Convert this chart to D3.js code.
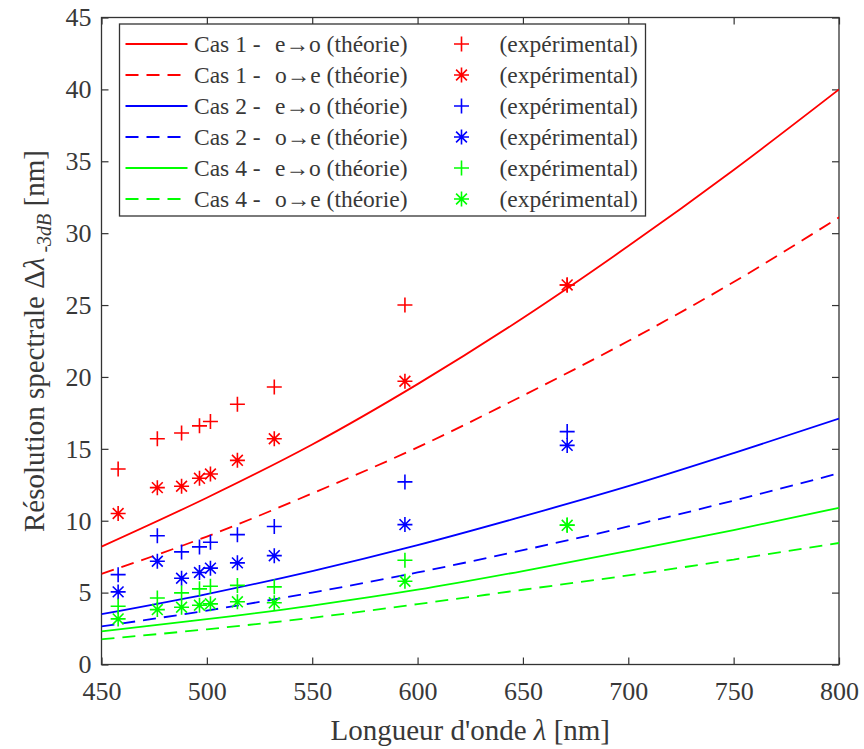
<!DOCTYPE html>
<html>
<head>
<meta charset="utf-8">
<script src="https://cdn.jsdelivr.net/npm/d3@7"></script>
<style>
  html, body { margin: 0; padding: 0; background: #fff; }
  svg { display: block; }
</style>
</head>
<body>
<script>
// ---------- data ----------
const xTicks = [450, 500, 550, 600, 650, 700, 750, 800];
const yTicks = [0, 5, 10, 15, 20, 25, 30, 35, 40, 45];

// theoretical curves (wavelength grid)
const lambdaTheory = [450, 500, 550, 600, 650, 700, 750, 800];
const cas1_eo_theory = [8.2, 11.6, 15.3, 19.5, 24.1, 29.1, 34.4, 40.0];
const cas1_oe_theory = [6.3, 8.9, 11.9, 15.1, 18.7, 22.5, 26.6, 31.1];
const cas2_eo_theory = [3.5, 4.9, 6.5, 8.3, 10.3, 12.4, 14.7, 17.1];
const cas2_oe_theory = [2.65, 3.75, 5.0, 6.4, 7.95, 9.6, 11.4, 13.3];
const cas4_eo_theory = [2.3, 3.15, 4.1, 5.2, 6.5, 7.9, 9.35, 10.9];
const cas4_oe_theory = [1.75, 2.45, 3.25, 4.2, 5.2, 6.2, 7.3, 8.45];

// experimental points
const lambdaExp = [457.9, 476.5, 488, 496.5, 501.7, 514.5, 532, 594, 671];
const cas1_eo_exp = [13.6, 15.7, 16.1, 16.6, 16.9, 18.1, 19.3, 25.0, 26.4];
const cas1_oe_exp = [10.5, 12.3, 12.4, 12.95, 13.25, 14.2, 15.7, 19.7, 26.4];
const cas2_eo_exp = [6.25, 8.96, 7.83, 8.18, 8.5, 9.03, 9.6, 12.7, 16.2];
const cas2_oe_exp = [5.05, 7.18, 6.0, 6.4, 6.7, 7.07, 7.57, 9.73, 15.24];
const cas4_eo_exp = [4.05, 4.63, 4.98, 5.26, 5.44, 5.5, 5.4, 7.25, 9.7];
const cas4_oe_exp = [3.17, 3.82, 3.98, 4.12, 4.22, 4.36, 4.29, 5.79, 9.68];

const seriesNames = ["Cas 1 - ", "Cas 1 - ", "Cas 2 - ", "Cas 2 - ", "Cas 4 - ", "Cas 4 - "];
const seriesDirs = ["e\u2192o (théorie)", "o\u2192e (théorie)", "e\u2192o (théorie)", "o\u2192e (théorie)", "e\u2192o (théorie)", "o\u2192e (théorie)"];
const expLabel = "(expérimental)";
const seriesColors = ["#ff0000", "#ff0000", "#0000ff", "#0000ff", "#00ff00", "#00ff00"];
const seriesDashed = [false, true, false, true, false, true];
const seriesMarkers = ["plus", "star", "plus", "star", "plus", "star"];
const theory = [cas1_eo_theory, cas1_oe_theory, cas2_eo_theory, cas2_oe_theory, cas4_eo_theory, cas4_oe_theory];
const exper = [cas1_eo_exp, cas1_oe_exp, cas2_eo_exp, cas2_oe_exp, cas4_eo_exp, cas4_oe_exp];

// ---------- layout ----------
const W = 864, H = 749;
const L = 101.5, R = 839, T = 17.5, B = 664.5;
const axisColor = "#333";
const FONT = "Liberation Serif, DejaVu Serif, serif";
const TXT = "#383838";

const svg = d3.select("body").append("svg").attr("width", W).attr("height", H)
  .attr("font-family", FONT);

const x = d3.scaleLinear().domain([450, 800]).range([L, R]);
const y = d3.scaleLinear().domain([0, 45]).range([B, T]);

svg.append("clipPath").attr("id", "clip").append("rect")
  .attr("x", L).attr("y", T).attr("width", R - L).attr("height", B - T);

// axes
const tickFont = 26;
const gx = svg.append("g").attr("transform", `translate(0,${B})`)
  .call(d3.axisBottom(x).tickValues(xTicks).tickSizeInner(-7).tickSizeOuter(0).tickPadding(17));
const gxt = svg.append("g").attr("transform", `translate(0,${T})`)
  .call(d3.axisTop(x).tickValues(xTicks).tickSizeInner(-7).tickSizeOuter(0).tickFormat(""));
const gy = svg.append("g").attr("transform", `translate(${L},0)`)
  .call(d3.axisLeft(y).tickValues(yTicks).tickSizeInner(-7).tickSizeOuter(0).tickPadding(10));
const gyr = svg.append("g").attr("transform", `translate(${R},0)`)
  .call(d3.axisRight(y).tickValues(yTicks).tickSizeInner(-7).tickSizeOuter(0).tickFormat(""));
[gx, gxt, gy, gyr].forEach(g => {
  g.attr("font-family", FONT).attr("font-size", tickFont);
  g.select(".domain").remove();
  g.selectAll(".tick line").attr("stroke", axisColor).attr("stroke-width", 1.2);
  g.selectAll(".tick text").attr("fill", TXT);
});

// frame
svg.append("rect").attr("x", L).attr("y", T).attr("width", R - L).attr("height", B - T)
  .attr("fill", "none").attr("stroke", axisColor).attr("stroke-width", 1.3);

// curves
const line = d3.line().x((d, i) => x(lambdaTheory[i])).y(d => y(d)).curve(d3.curveMonotoneX);
const curves = svg.append("g").attr("clip-path", "url(#clip)");
theory.forEach((s, k) => {
  curves.append("path").attr("d", line(s)).attr("fill", "none")
    .attr("stroke", seriesColors[k]).attr("stroke-width", 1.8)
    .attr("stroke-dasharray", seriesDashed[k] ? "13,8" : null);
});

// markers
function markerPath(type, r) {
  const d = r * 0.72;
  let p = `M${-r},0H${r}M0,${-r}V${r}`;
  if (type === "star") p += `M${-d},${-d}L${d},${d}M${-d},${d}L${d},${-d}`;
  return p;
}
const marks = svg.append("g");
exper.forEach((s, k) => {
  marks.selectAll(null).data(s).enter().append("path")
    .attr("transform", (d, i) => `translate(${x(lambdaExp[i])},${y(d)})`)
    .attr("d", markerPath(seriesMarkers[k], 7.5))
    .attr("fill", "none").attr("stroke", seriesColors[k]).attr("stroke-width", 1.6);
});

// legend
const lg = svg.append("g").attr("font-family", FONT);
lg.append("rect").attr("x", 119.5).attr("y", 24).attr("width", 526).attr("height", 192)
  .attr("fill", "#fff").attr("stroke", axisColor).attr("stroke-width", 1.3);
const legFont = 23.5;
const rowY = [44, 75, 106, 137, 168, 199];
seriesNames.forEach((nm, k) => {
  const cy = rowY[k];
  lg.append("line").attr("x1", 125.5).attr("x2", 187.5).attr("y1", cy).attr("y2", cy)
    .attr("stroke", seriesColors[k]).attr("stroke-width", 1.8)
    .attr("stroke-dasharray", seriesDashed[k] ? "13,8" : null);
  const t = lg.append("text").attr("y", cy + 8).attr("font-size", legFont).attr("fill", TXT);
  t.append("tspan").attr("x", 194).text(nm);
  t.append("tspan").attr("x", 275).text(seriesDirs[k]);
  lg.append("path").attr("transform", `translate(461.5,${cy})`)
    .attr("d", markerPath(seriesMarkers[k], 7.5))
    .attr("fill", "none").attr("stroke", seriesColors[k]).attr("stroke-width", 1.6);
  lg.append("text").attr("x", 499.5).attr("y", cy + 8).attr("font-size", legFont)
    .attr("fill", TXT).text(expLabel);
});

// axis labels
const xl = svg.append("text").attr("x", (L + R) / 2).attr("y", 740).attr("text-anchor", "middle")
  .attr("font-size", 29).attr("fill", TXT);
xl.append("tspan").text("Longueur d'onde ");
xl.append("tspan").attr("font-style", "italic").text("λ");
xl.append("tspan").text(" [nm]");

const yl = svg.append("text").attr("transform", `translate(44,${(T + B) / 2}) rotate(-90)`)
  .attr("text-anchor", "middle").attr("font-size", 29).attr("fill", TXT);
yl.append("tspan").text("Résolution spectrale ");
yl.append("tspan").text("Δ");
yl.append("tspan").attr("font-style", "italic").text("λ");
yl.append("tspan").attr("font-style", "italic").attr("font-size", 20).attr("dy", 7).text(" -3dB");
yl.append("tspan").attr("dy", -7).text(" [nm]");
</script>
</body>
</html>
